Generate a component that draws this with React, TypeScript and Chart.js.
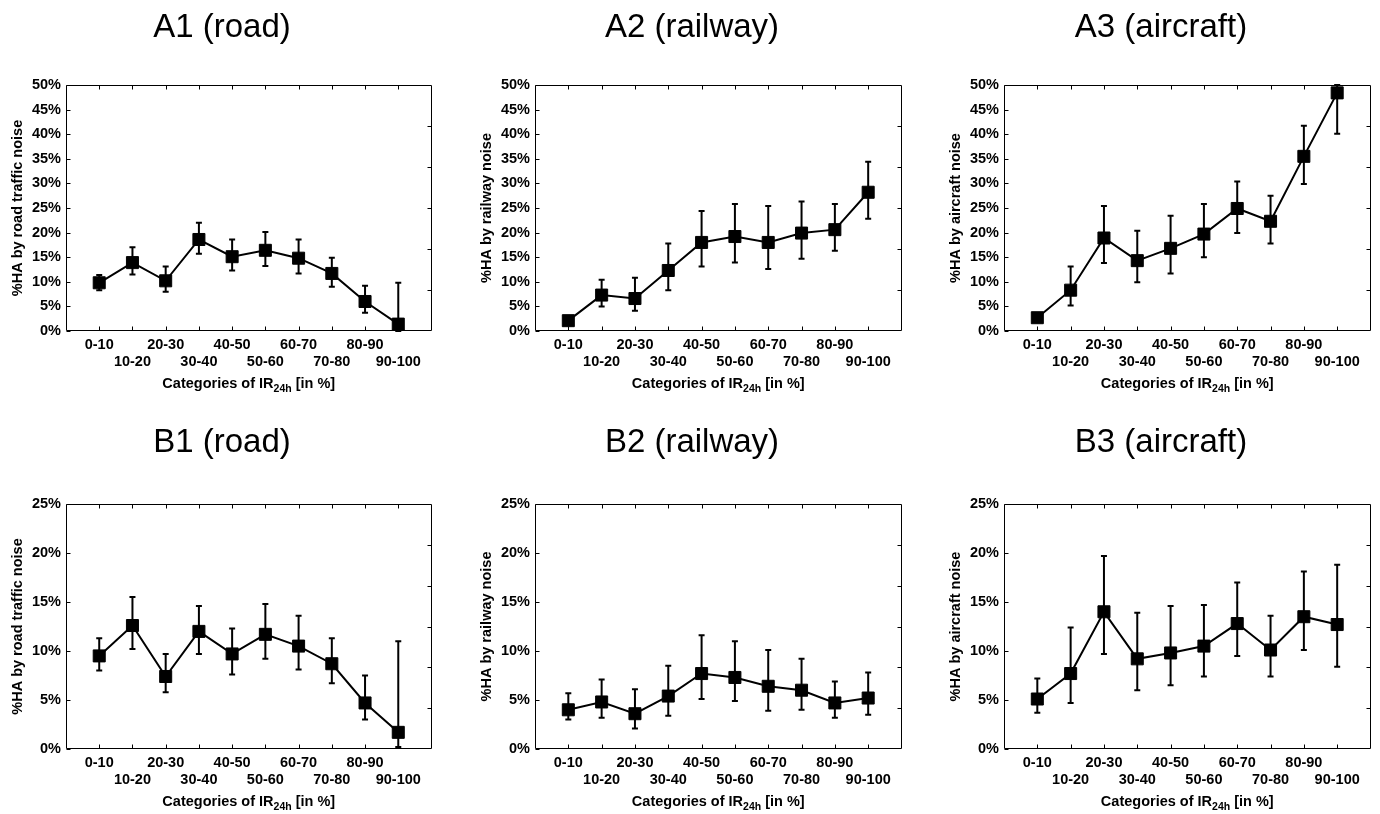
import React, { useEffect, useRef } from "react";
import { Chart, registerables } from "chart.js";

Chart.register(...registerables);

// ---------- data ----------
const categories = ["0-10", "10-20", "20-30", "30-40", "40-50", "50-60", "60-70", "70-80", "80-90", "90-100"];
const yTicksA = [0, 5, 10, 15, 20, 25, 30, 35, 40, 45, 50];
const yTicksB = [0, 5, 10, 15, 20, 25];

const a1Values = [9.8, 13.9, 10.2, 18.6, 15.1, 16.4, 14.8, 11.7, 6.0, 1.4];
const a1Upper = [11.4, 17.0, 13.1, 22.0, 18.6, 20.1, 18.6, 14.9, 9.2, 9.8];
const a1Lower = [8.3, 11.5, 8.0, 15.7, 12.3, 13.2, 11.7, 9.0, 3.7, 0.0];

const a2Values = [2.1, 7.3, 6.6, 12.3, 18.0, 19.2, 18.0, 19.9, 20.6, 28.2];
const a2Upper = [2.8, 10.4, 10.8, 17.8, 24.4, 25.8, 25.4, 26.3, 25.8, 34.4];
const a2Lower = [1.5, 5.0, 4.1, 8.3, 13.1, 13.9, 12.6, 14.7, 16.3, 22.8];

const a3Values = [2.7, 8.3, 18.9, 14.3, 16.8, 19.7, 24.9, 22.3, 35.5, 48.4];
const a3Upper = [3.3, 13.1, 25.4, 20.4, 23.4, 25.8, 30.4, 27.5, 41.7, 50.0];
const a3Lower = [2.2, 5.2, 13.8, 9.9, 11.7, 15.0, 19.9, 17.8, 29.9, 40.1];

const b1Values = [9.5, 12.6, 7.4, 12.0, 9.7, 11.7, 10.5, 8.7, 4.7, 1.7];
const b1Upper = [11.3, 15.5, 9.7, 14.6, 12.3, 14.8, 13.6, 11.3, 7.5, 11.0];
const b1Lower = [8.0, 10.2, 5.8, 9.7, 7.6, 9.2, 8.1, 6.7, 3.0, 0.2];

const b2Values = [4.0, 4.8, 3.6, 5.4, 7.7, 7.3, 6.4, 6.0, 4.7, 5.2];
const b2Upper = [5.7, 7.1, 6.1, 8.5, 11.6, 11.0, 10.1, 9.2, 6.9, 7.8];
const b2Lower = [3.0, 3.2, 2.1, 3.4, 5.1, 4.9, 3.9, 4.0, 3.2, 3.5];

const b3Values = [5.1, 7.7, 14.0, 9.2, 9.8, 10.5, 12.8, 10.1, 13.5, 12.7];
const b3Upper = [7.2, 12.4, 19.7, 13.9, 14.6, 14.7, 17.0, 13.6, 18.1, 18.8];
const b3Lower = [3.7, 4.7, 9.7, 6.0, 6.5, 7.4, 9.5, 7.4, 10.1, 8.4];

// ---------- layout ----------
const FONT = '"Liberation Sans", Arial, Helvetica, sans-serif';
const PAD_LEFT = 66;
const PAD_TOP = 85;
const PAD_RIGHT = 8;
const PAD_BOTTOM = 75;

type PanelCfg = {
  title: string;
  yTitle: string;
  values: number[];
  upper: number[];
  lower: number[];
  yTicks: number[];
  L: number;
  T: number;
  W: number;
  H: number;
  titleCx: number;
  titleBase: number;
};

const panels: PanelCfg[] = [
  { title: "A1 (road)", yTitle: "%HA by road traffic noise", values: a1Values, upper: a1Upper, lower: a1Lower, yTicks: yTicksA, L: 66, T: 85, W: 367, H: 246, titleCx: 222, titleBase: 37 },
  { title: "A2 (railway)", yTitle: "%HA by railway noise", values: a2Values, upper: a2Upper, lower: a2Lower, yTicks: yTicksA, L: 535, T: 85, W: 368, H: 246, titleCx: 692, titleBase: 37 },
  { title: "A3 (aircraft)", yTitle: "%HA by aircraft noise", values: a3Values, upper: a3Upper, lower: a3Lower, yTicks: yTicksA, L: 1004, T: 85, W: 368, H: 246, titleCx: 1161, titleBase: 37 },
  { title: "B1 (road)", yTitle: "%HA by road traffic noise", values: b1Values, upper: b1Upper, lower: b1Lower, yTicks: yTicksB, L: 66, T: 504, W: 367, H: 245, titleCx: 222, titleBase: 452 },
  { title: "B2 (railway)", yTitle: "%HA by railway noise", values: b2Values, upper: b2Upper, lower: b2Lower, yTicks: yTicksB, L: 535, T: 504, W: 368, H: 245, titleCx: 692, titleBase: 452 },
  { title: "B3 (aircraft)", yTitle: "%HA by aircraft noise", values: b3Values, upper: b3Upper, lower: b3Lower, yTicks: yTicksB, L: 1004, T: 504, W: 368, H: 245, titleCx: 1161, titleBase: 452 },
];

function Panel({ cfg }: { cfg: PanelCfg }) {
  const ref = useRef<HTMLCanvasElement>(null);
  const cw = PAD_LEFT + cfg.W + PAD_RIGHT;
  const ch = PAD_TOP + cfg.H + PAD_BOTTOM;
  const offX = cfg.L - PAD_LEFT;
  const offY = cfg.T - PAD_TOP;

  useEffect(() => {
    if (!ref.current) return;
    const yMax = cfg.yTicks[cfg.yTicks.length - 1];

    const errorBars = {
      id: "errorBars",
      afterDatasetsDraw(chart: any) {
        const ctx = chart.ctx;
        const xs = chart.scales.x;
        const ys = chart.scales.y;
        ctx.save();
        ctx.strokeStyle = "#000";
        ctx.lineWidth = 2;
        cfg.values.forEach((_, i) => {
          const x = xs.getPixelForValue(i + 1);
          const yt = ys.getPixelForValue(cfg.upper[i]);
          const yb = ys.getPixelForValue(cfg.lower[i]);
          ctx.beginPath();
          ctx.moveTo(x, yt);
          ctx.lineTo(x, yb);
          ctx.moveTo(x - 3, yt);
          ctx.lineTo(x + 3, yt);
          ctx.moveTo(x - 3, yb);
          ctx.lineTo(x + 3, yb);
          ctx.stroke();
        });
        ctx.restore();
      },
    };

    const frame = {
      id: "frame",
      afterDraw(chart: any) {
        const ctx = chart.ctx;
        const a = chart.chartArea;
        const xs = chart.scales.x;
        const ys = chart.scales.y;
        const tk = 4;
        ctx.save();
        ctx.strokeStyle = "#000";
        ctx.lineWidth = 1;
        const l = Math.round(a.left) + 0.5;
        const r = Math.round(a.right) - 0.5;
        const t = Math.round(a.top) + 0.5;
        const b = Math.round(a.bottom) - 0.5;
        ctx.beginPath();
        ctx.rect(l, t, r - l, b - t);
        categories.forEach((_, i) => {
          const x = Math.round(xs.getPixelForValue(i + 1)) + 0.5;
          ctx.moveTo(x, b);
          ctx.lineTo(x, b - tk);
          ctx.moveTo(x, t);
          ctx.lineTo(x, t + tk);
        });
        cfg.yTicks.forEach((v) => {
          const y = Math.round(ys.getPixelForValue(v)) + 0.5;
          ctx.moveTo(l, y);
          ctx.lineTo(l + tk, y);
        });
        for (let k = 1; k < 6; k++) {
          const y = Math.round(t + ((b - t) * k) / 6) + 0.5;
          ctx.moveTo(r, y);
          ctx.lineTo(r - tk, y);
        }
        ctx.stroke();

        // texts
        ctx.fillStyle = "#000";
        ctx.font = `33px ${FONT}`;
        ctx.textAlign = "center";
        ctx.textBaseline = "alphabetic";
        ctx.fillText(cfg.title, cfg.titleCx - offX, cfg.titleBase - offY);

        ctx.save();
        ctx.font = `bold 14.5px ${FONT}`;
        ctx.translate(a.left - 44, (a.top + a.bottom) / 2);
        ctx.rotate(-Math.PI / 2);
        ctx.textAlign = "center";
        ctx.textBaseline = "alphabetic";
        ctx.fillText(cfg.yTitle, 0, 0);
        ctx.restore();

        const p1 = "Categories of IR";
        const sub = "24h";
        const p2 = " [in %]";
        const mainFont = `bold 14.5px ${FONT}`;
        const subFont = `bold 10.5px ${FONT}`;
        ctx.font = mainFont;
        const w1 = ctx.measureText(p1).width;
        const w3 = ctx.measureText(p2).width;
        ctx.font = subFont;
        const w2 = ctx.measureText(sub).width;
        const total = w1 + w2 + w3;
        const x0 = (a.left + a.right) / 2 - total / 2;
        const base = a.bottom + 57;
        ctx.textAlign = "left";
        ctx.font = mainFont;
        ctx.fillText(p1, x0, base);
        ctx.font = subFont;
        ctx.fillText(sub, x0 + w1, base + 4);
        ctx.font = mainFont;
        ctx.fillText(p2, x0 + w1 + w2, base);
        ctx.restore();
      },
    };

    const chart = new Chart(ref.current, {
      type: "line",
      data: {
        datasets: [
          {
            data: cfg.values.map((v, i) => ({ x: i + 1, y: v })),
            borderColor: "#000",
            backgroundColor: "#000",
            borderWidth: 2,
            pointStyle: "rect",
            pointRadius: 8.5,
            pointBorderWidth: 1,
            pointBorderColor: "#000",
            pointBackgroundColor: "#000",
            tension: 0,
          },
        ],
      },
      options: {
        animation: false,
        responsive: false,
        maintainAspectRatio: false,
        layout: { padding: { left: 0, top: PAD_TOP, right: PAD_RIGHT, bottom: 0 } },
        plugins: {
          legend: { display: false },
          tooltip: { enabled: false },
          title: { display: false },
        },
        scales: {
          x: {
            type: "linear",
            min: 0,
            max: categories.length + 1,
            grid: { display: false, drawTicks: false },
            border: { display: false },
            afterBuildTicks: (s: any) => {
              s.ticks = categories.map((_, i) => ({ value: i + 1 }));
            },
            afterFit: (s: any) => {
              s.height = PAD_BOTTOM;
            },
            ticks: {
              autoSkip: false,
              maxRotation: 0,
              minRotation: 0,
              padding: 5.5,
              color: "#000",
              font: { family: FONT, size: 14.5, weight: "bold", lineHeight: 17 / 14.5 },
              callback: (v: any) => {
                const i = Math.round(Number(v)) - 1;
                const lab = categories[i] ?? "";
                return i % 2 === 0 ? lab : ["", lab];
              },
            },
          },
          y: {
            type: "linear",
            min: 0,
            max: yMax,
            grid: { display: false, drawTicks: false },
            border: { display: false },
            afterBuildTicks: (s: any) => {
              s.ticks = cfg.yTicks.map((v) => ({ value: v }));
            },
            afterFit: (s: any) => {
              s.width = PAD_LEFT;
            },
            ticks: {
              padding: 5,
              color: "#000",
              font: { family: FONT, size: 14.5, weight: "bold" },
              callback: (v: any) => `${v}%`,
            },
          },
        },
      } as any,
      plugins: [errorBars, frame],
    });
    return () => chart.destroy();
  }, []);

  return (
    <canvas
      ref={ref}
      width={cw}
      height={ch}
      style={{ position: "absolute", left: offX, top: offY, width: cw, height: ch }}
    />
  );
}

export default function App() {
  return (
    <div style={{ position: "absolute", left: 0, top: 0, width: 1380, height: 814, background: "#fff", overflow: "hidden" }}>
      {panels.map((p) => (
        <Panel key={p.title} cfg={p} />
      ))}
    </div>
  );
}
